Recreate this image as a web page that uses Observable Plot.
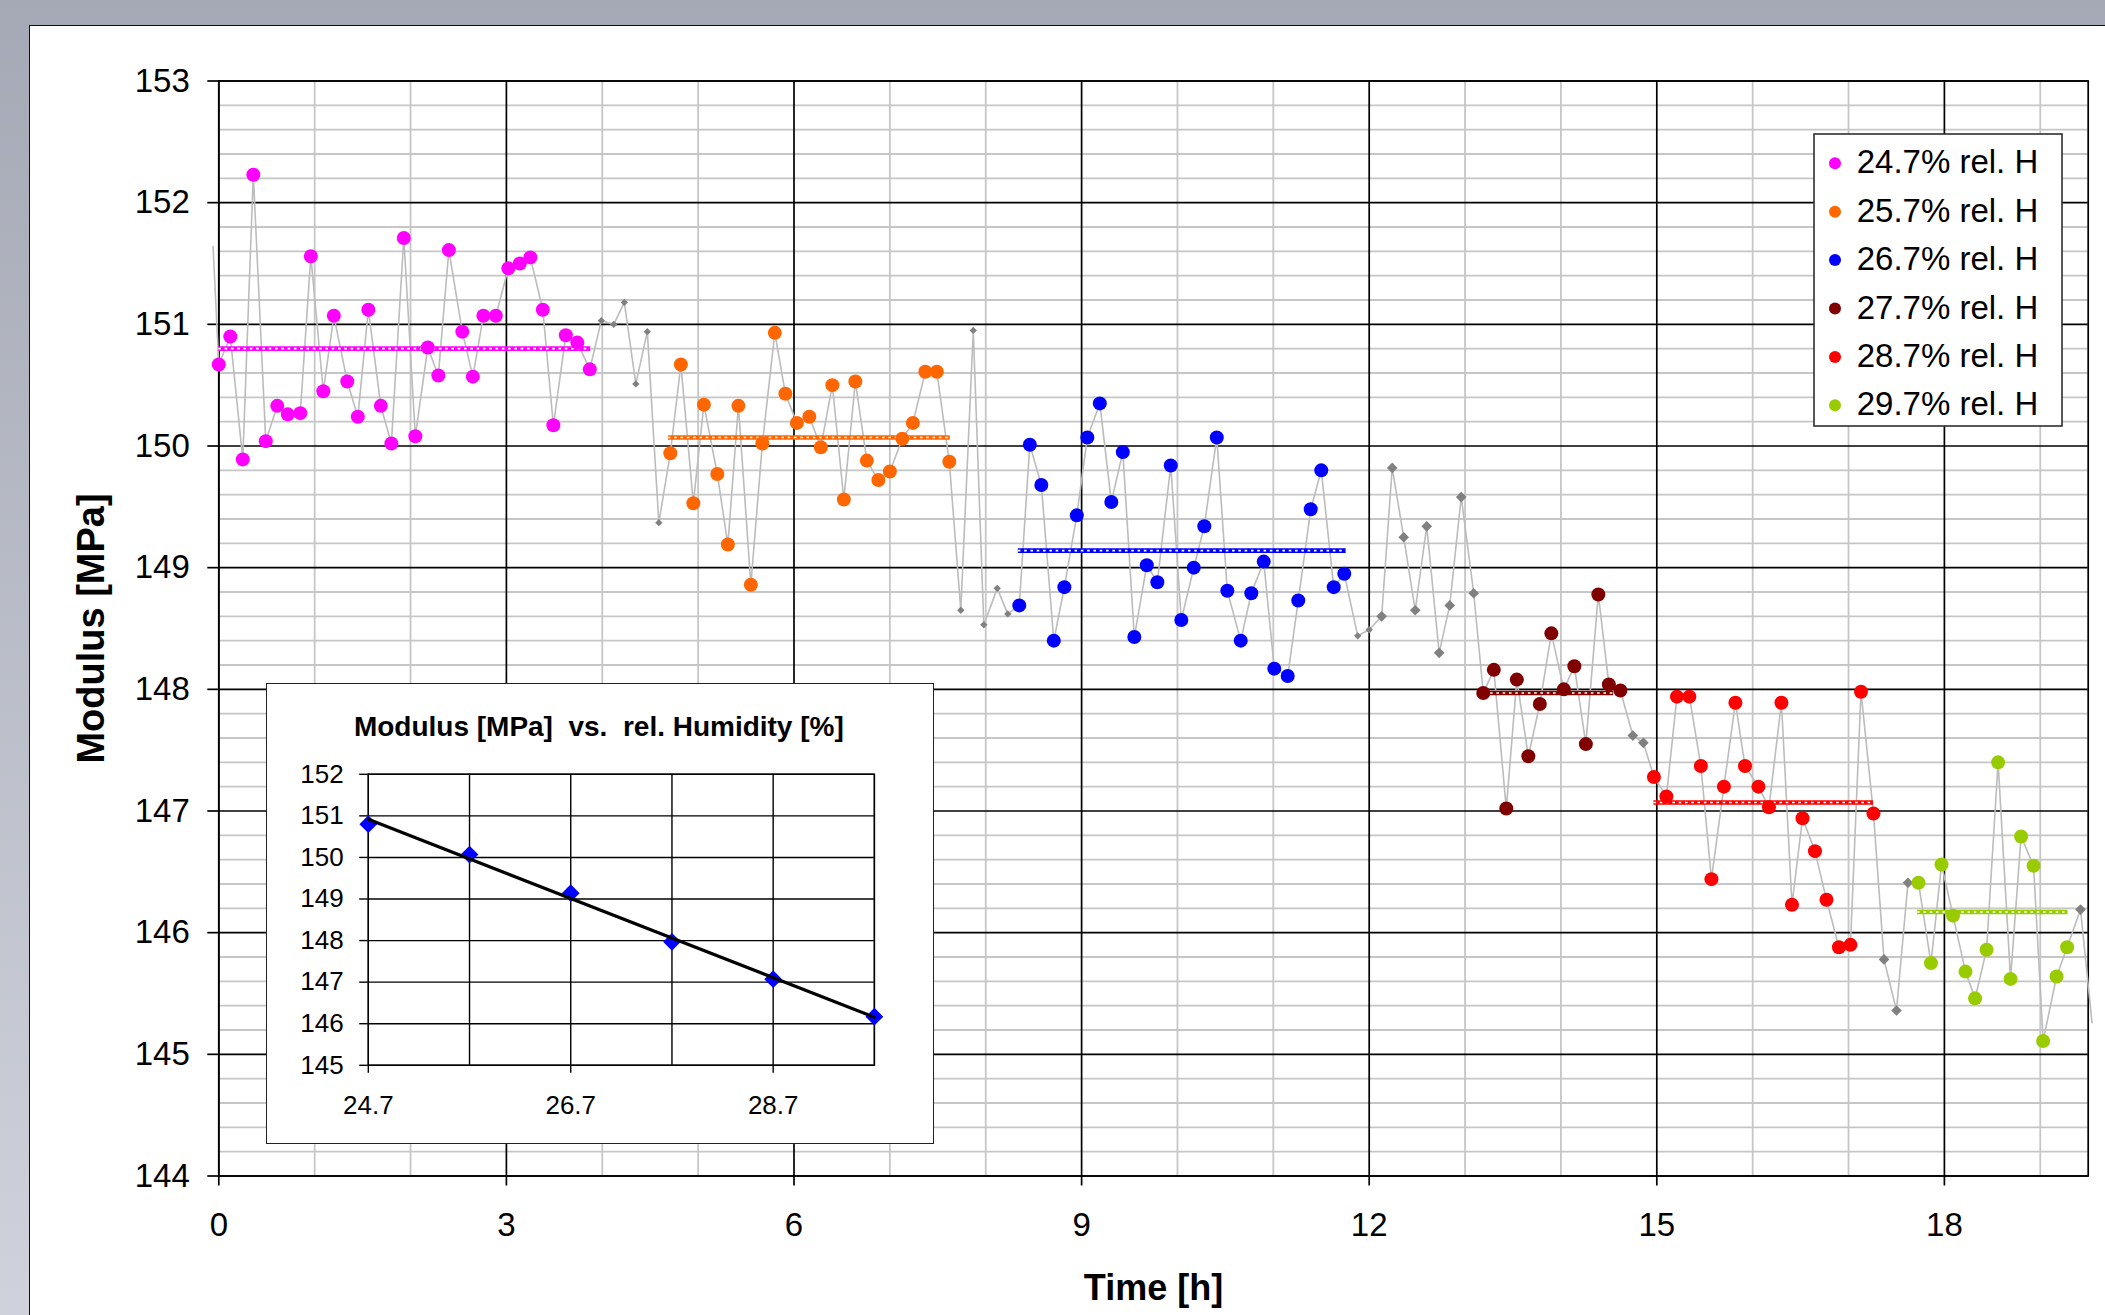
<!DOCTYPE html>
<html>
<head>
<meta charset="utf-8">
<script src="https://cdn.jsdelivr.net/npm/d3@7"></script>
<script src="https://cdn.jsdelivr.net/npm/@observablehq/plot@0.6"></script>
<style>
html,body{margin:0;padding:0;}
body{width:2105px;height:1315px;overflow:hidden;position:relative;background:linear-gradient(#a5a9b5,#cfd2da);font-family:"Liberation Sans",Arial,sans-serif;}
#sheet{position:absolute;left:29px;top:25px;right:0;bottom:0;background:#fff;border-left:1.5px solid #111;border-top:1.5px solid #111;}
.abs{position:absolute;}
</style>
</head>
<body>
<div id="sheet"></div>
<script>
// ---------------- DATA ----------------
const humidity = [24.7, 25.7, 26.7, 27.7, 28.7, 29.7];
const seriesLabels = ["24.7% rel. H", "25.7% rel. H", "26.7% rel. H", "27.7% rel. H", "28.7% rel. H", "29.7% rel. H"];
const seriesColors = ["#ff00ff", "#ff6600", "#0000ff", "#800000", "#ff0000", "#99cc00"];

// time [h] and modulus [MPa] of each humidity phase
const t247 = [0.00,0.12,0.25,0.36,0.49,0.61,0.72,0.85,0.96,1.09,1.20,1.34,1.45,1.56,1.69,1.80,1.93,2.05,2.18,2.29,2.40,2.54,2.65,2.76,2.89,3.02,3.14,3.25,3.38,3.49,3.62,3.74,3.87];
const m247 = [150.67,150.90,149.89,152.23,150.04,150.33,150.26,150.27,151.56,150.45,151.07,150.53,150.24,151.12,150.33,150.02,151.71,150.08,150.81,150.58,151.61,150.94,150.57,151.07,151.07,151.46,151.50,151.55,151.12,150.17,150.91,150.85,150.63];
const t257 = [4.71,4.82,4.95,5.06,5.20,5.31,5.42,5.55,5.67,5.80,5.91,6.03,6.16,6.28,6.40,6.52,6.64,6.76,6.88,7.00,7.13,7.24,7.37,7.49,7.62];
const m257 = [149.94,150.67,149.53,150.34,149.77,149.19,150.33,148.86,150.02,150.93,150.43,150.19,150.24,149.99,150.50,149.56,150.53,149.88,149.72,149.79,150.06,150.19,150.61,150.61,149.87];
const t267 = [8.35,8.46,8.58,8.71,8.82,8.95,9.06,9.19,9.31,9.43,9.55,9.68,9.79,9.93,10.04,10.17,10.28,10.41,10.52,10.66,10.77,10.90,11.01,11.15,11.26,11.39,11.50,11.63,11.74];
const m267 = [148.69,150.01,149.68,148.40,148.84,149.43,150.07,150.35,149.54,149.95,148.43,149.02,148.88,149.84,148.57,149.00,149.34,150.07,148.81,148.40,148.79,149.05,148.17,148.11,148.73,149.48,149.80,148.84,148.95];
const t277 = [13.19,13.30,13.43,13.54,13.66,13.78,13.90,14.03,14.14,14.26,14.39,14.50,14.62];
const m277 = [147.97,148.16,147.02,148.08,147.45,147.88,148.46,148.00,148.19,147.55,148.78,148.04,147.99];
const t287 = [14.97,15.10,15.21,15.34,15.46,15.57,15.70,15.82,15.92,16.06,16.17,16.30,16.41,16.52,16.65,16.77,16.90,17.02,17.13,17.26];
const m287 = [147.28,147.12,147.94,147.94,147.37,146.44,147.20,147.89,147.37,147.20,147.03,147.89,146.23,146.94,146.67,146.27,145.88,145.90,147.98,146.98];
const t297 = [17.73,17.86,17.97,18.09,18.22,18.32,18.44,18.56,18.69,18.80,18.93,19.03,19.17,19.28];
const m297 = [146.41,145.75,146.56,146.14,145.68,145.46,145.86,147.40,145.62,146.79,146.55,145.11,145.64,145.88];

// transition measurements (grey diamonds); first/last entries are where the trace leaves the plot area
const tOther = [-0.06,3.99,4.12,4.23,4.35,4.47,4.59,7.74,7.87,7.98,8.12,8.23,11.88,12.00,12.13,12.24,12.36,12.48,12.60,12.73,12.84,12.96,13.09,14.75,14.86,17.37,17.50,17.62,19.42,19.54];
const mOther = [151.64,151.03,151.00,151.18,150.51,150.94,149.37,148.65,150.95,148.53,148.83,148.62,148.44,148.49,148.60,149.82,149.25,148.65,149.34,148.30,148.69,149.58,148.79,147.62,147.56,145.78,145.36,146.41,146.19,145.26];

// phase averages and their time span
const meanModulus = [150.80, 150.07, 149.14, 147.97, 147.07, 146.17];
const phaseStart = [0.00, 4.69, 8.34, 13.20, 14.97, 17.72];
const phaseEnd = [3.88, 7.63, 11.76, 14.55, 17.26, 19.29];

// tick values
const majorHours = [0, 3, 6, 9, 12, 15, 18];
const majorModulus = [144, 145, 146, 147, 148, 149, 150, 151, 152, 153];
const insetModulusTicks = [145, 146, 147, 148, 149, 150, 151, 152];
const insetHumidityLabels = [24.7, 26.7, 28.7];

// ---------------- BUILD ----------------
const seriesTimes = [t247, t257, t267, t277, t287, t297];
const seriesModulus = [m247, m257, m267, m277, m287, m297];
const series = humidity.map((h, i) => ({
  h, label: seriesLabels[i], color: seriesColors[i],
  pts: seriesTimes[i].map((t, j) => ({t, m: seriesModulus[i][j]})),
  mean: meanModulus[i], start: phaseStart[i], end: phaseEnd[i]
}));
const others = tOther.map((t, j) => ({t, m: mOther[j]}));
const allPoints = [...series.flatMap(s => s.pts), ...others].sort((a, b) => a.t - b.t);
const visibleOthers = others.filter(d => d.t >= 0 && d.t <= 19.5);

const minorHours = d3.range(1, 20).filter(d => d % 3 !== 0);
const minorModulus = d3.range(1, 45).map(i => 144 + i * 0.2).filter(v => Math.abs(v - Math.round(v)) > 0.05);

const W = 2105, H = 1315;
const fx0 = 218.3, fx1 = 2087.7, fy0 = 80.5, fy1 = 1175.5;
const FONT = "'Liberation Sans', Arial, sans-serif";

const main = Plot.plot({
  width: W, height: H,
  marginLeft: fx0, marginRight: W - fx1, marginTop: fy0, marginBottom: H - fy1,
  style: {background: "transparent", fontFamily: FONT, color: "#000", overflow: "visible"},
  x: {domain: [0, 19.5]},
  y: {domain: [144, 153]},
  marks: [
    Plot.ruleX(minorHours, {stroke: "#c6c6c6", strokeWidth: 1.8}),
    Plot.ruleY(minorModulus, {stroke: "#c6c6c6", strokeWidth: 1.8}),
    Plot.ruleX(majorHours, {stroke: "#000", strokeWidth: 1.7}),
    Plot.ruleY(majorModulus, {stroke: "#000", strokeWidth: 1.7}),
    Plot.frame({stroke: "#000", strokeWidth: 1.7}),
    Plot.axisX(majorHours, {tickSize: 10, tickPadding: 27, fontSize: 33, label: null, tickFormat: d => `${d}`, strokeWidth: 1.7}),
    Plot.axisY(majorModulus, {tickSize: 11, tickPadding: 18, fontSize: 33, label: null, tickFormat: d => `${d}`, strokeWidth: 1.7}),
    Plot.line(allPoints, {x: "t", y: "m", stroke: "#bcbcbc", strokeWidth: 1.6}),
    ...series.map(s => Plot.ruleY([s], {y: "mean", x1: "start", x2: "end", stroke: s.color, strokeWidth: 4.6})),
    ...series.map(s => Plot.ruleY([s], {y: "mean", x1: "start", x2: "end", stroke: "#fff", strokeWidth: 1.7, strokeDasharray: "2.6,3.7"})),
    Plot.dot(visibleOthers.filter(d => d.t < 12.1), {x: "t", y: "m", symbol: "diamond2", r: 3.3, fill: "#808080"}),
    Plot.dot(visibleOthers.filter(d => d.t >= 12.1), {x: "t", y: "m", symbol: "diamond2", r: 4.8, fill: "#808080"}),
    ...series.map(s => Plot.dot(s.pts, {x: "t", y: "m", r: 7, fill: s.color})),
    Plot.text(["Modulus [MPa]"], {text: d => d, frameAnchor: "left", textAnchor: "middle", dx: 91 - fx0, rotate: -90, fontSize: 38, fontWeight: "bold", fill: "#000"}),
    Plot.text(["Time [h]"], {text: d => d, frameAnchor: "bottom", textAnchor: "middle", dy: 1288 - fy1, lineAnchor: "middle", fontSize: 36, fontWeight: "bold", fill: "#000"})
  ]
});
main.classList.add("abs");
main.style.left = "0px"; main.style.top = "0px";
document.body.appendChild(main);

// ---------------- INSET ----------------
const iL = 266.7, iT = 684.2, iW = 666.1, iH = 459.3;
const insetData = humidity.map((h, i) => ({h, m: meanModulus[i]}));
const inset = Plot.plot({
  width: iW, height: iH,
  marginLeft: 367.5 - iL, marginRight: iW - (873.6 - iL), marginTop: 774 - iT, marginBottom: iH - (1065 - iT),
  style: {background: "#fff", fontFamily: FONT, color: "#000", overflow: "visible"},
  x: {domain: [24.7, 29.7]},
  y: {domain: [145, 152]},
  marks: [
    Plot.ruleX(humidity, {stroke: "#000", strokeWidth: 1.4}),
    Plot.ruleY(insetModulusTicks, {stroke: "#000", strokeWidth: 1.4}),
    Plot.frame({stroke: "#000", strokeWidth: 1.4}),
    Plot.axisX(insetHumidityLabels, {tickSize: 8, tickPadding: 22, fontSize: 26, label: null, tickFormat: d => d.toFixed(1), strokeWidth: 1.4}),
    Plot.axisY(insetModulusTicks, {tickSize: 8.6, tickPadding: 16, fontSize: 26, label: null, tickFormat: d => `${d}`, strokeWidth: 1.4}),
    Plot.dot(insetData, {x: "h", y: "m", symbol: "diamond2", r: 8, fill: "#0000ff"}),
    Plot.linearRegressionY(insetData, {x: "h", y: "m", stroke: "#000", strokeWidth: 3.2, ci: 0}),
    Plot.text(["Modulus [MPa]  vs.  rel. Humidity [%]"], {text: d => d, frameAnchor: "top", dy: -47.5, dx: -22.5, lineAnchor: "middle", fontSize: 28, fontWeight: "bold", fill: "#000"})
  ]
});
inset.classList.add("abs");
inset.style.left = iL + "px"; inset.style.top = iT + "px";
inset.style.outline = "1.5px solid #222";
inset.querySelectorAll("text").forEach(t => t.setAttribute("xml:space", "preserve"));
inset.style.whiteSpace = "pre";
document.body.appendChild(inset);

// ---------------- LEGEND ----------------
const lgL = 1813, lgT = 133;
const leg = d3.select("body").append("svg")
  .attr("class", "abs").attr("width", 251).attr("height", 295)
  .style("left", lgL + "px").style("top", lgT + "px");
leg.append("rect").attr("x", 1).attr("y", 1).attr("width", 248).attr("height", 292)
  .attr("fill", "#fff").attr("stroke", "#222").attr("stroke-width", 1.5);
series.forEach((s, i) => {
  leg.append("circle").attr("cx", 1835 - lgL).attr("cy", 163.3 - lgT + 48.4 * i).attr("r", 6).attr("fill", s.color);
  leg.append("text").attr("x", 1856.7 - lgL).attr("y", 173.3 - lgT + 48.4 * i)
    .attr("font-family", FONT).attr("font-size", 33).attr("fill", "#000").text(s.label);
});
</script>
</body>
</html>
